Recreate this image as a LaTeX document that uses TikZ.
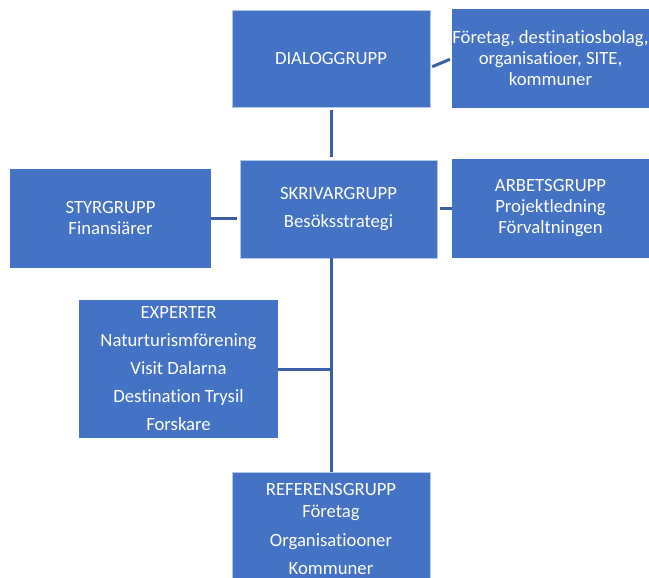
\documentclass[tikz,border=0pt]{standalone}
\usepackage{fontspec}
\setmainfont{Carlito}[Ligatures=NoCommon]
\definecolor{boxblue}{HTML}{4472C4}
\definecolor{lineblue}{RGB}{59,94,165}
\definecolor{edgelight}{HTML}{B4C7E7}
\begin{document}
\begin{tikzpicture}[x=1pt,y=-1pt,
  grp/.style={fill=boxblue,draw=none,text=white,align=center,inner sep=0pt,
    font=\fontsize{18.7}{21}\selectfont},
  grpedge/.style={grp,draw=edgelight,line width=0.8pt},
  conn/.style={draw=lineblue,line width=3pt}]
\useasboundingbox (0,0) rectangle (649,578);
\clip (0,0) rectangle (649,578);
\node[grpedge,minimum width=198pt,minimum height=97pt] (dialog) at (331,58.5) {DIALOGGRUPP};
\node[grp,minimum width=197pt,minimum height=99pt] (foretag) at (550.5,58.5) {Företag, destinatiosbolag,\\organisatioer, SITE,\\kommuner};
\node[grpedge,minimum width=197pt,minimum height=98pt] (skriv) at (338.5,209) {SKRIVARGRUPP\\[7pt]Besöksstrategi};
\node[grp,minimum width=201pt,minimum height=99pt] (styr) at (110.5,218.5) {\raisebox{-1.5pt}{\parbox{190pt}{\centering STYRGRUPP\\Finansiärer}}};
\node[grp,minimum width=197pt,minimum height=99pt] (arbets) at (550.5,208.5) {ARBETSGRUPP\\Projektledning\\Förvaltningen};
\node[grp,minimum width=199pt,minimum height=138pt] (experter) at (178.5,369) {EXPERTER\\[7pt]Naturturismförening\\[7pt]Visit Dalarna\\[7pt]Destination Trysil\\[7pt]Forskare};
\node[grpedge,minimum width=198pt,minimum height=113pt] (referens) at (331,528.5) {REFERENSGRUPP\\[1pt]Företag\\[8pt]Organisatiooner\\[7pt]Kommuner};
\coordinate (dfa) at ([yshift=-9pt]dialog.east);
\draw[conn,shorten <=2pt,shorten >=2pt] (dfa) -- (foretag.west);
\draw[conn,shorten <=3pt,shorten >=3pt] (dialog.south) -- (dialog.south |- skriv.north);
\draw[conn,shorten >=3pt] (styr.east) -- (styr.east -| skriv.west);
\draw[conn,shorten <=3pt] (skriv.east |- arbets.west) -- (arbets.west);
\draw[conn] (referens.north |- skriv.south) -- (referens.north);
\draw[conn] (experter.east) -- (experter.east -| referens.north);
\end{tikzpicture}
\end{document}
